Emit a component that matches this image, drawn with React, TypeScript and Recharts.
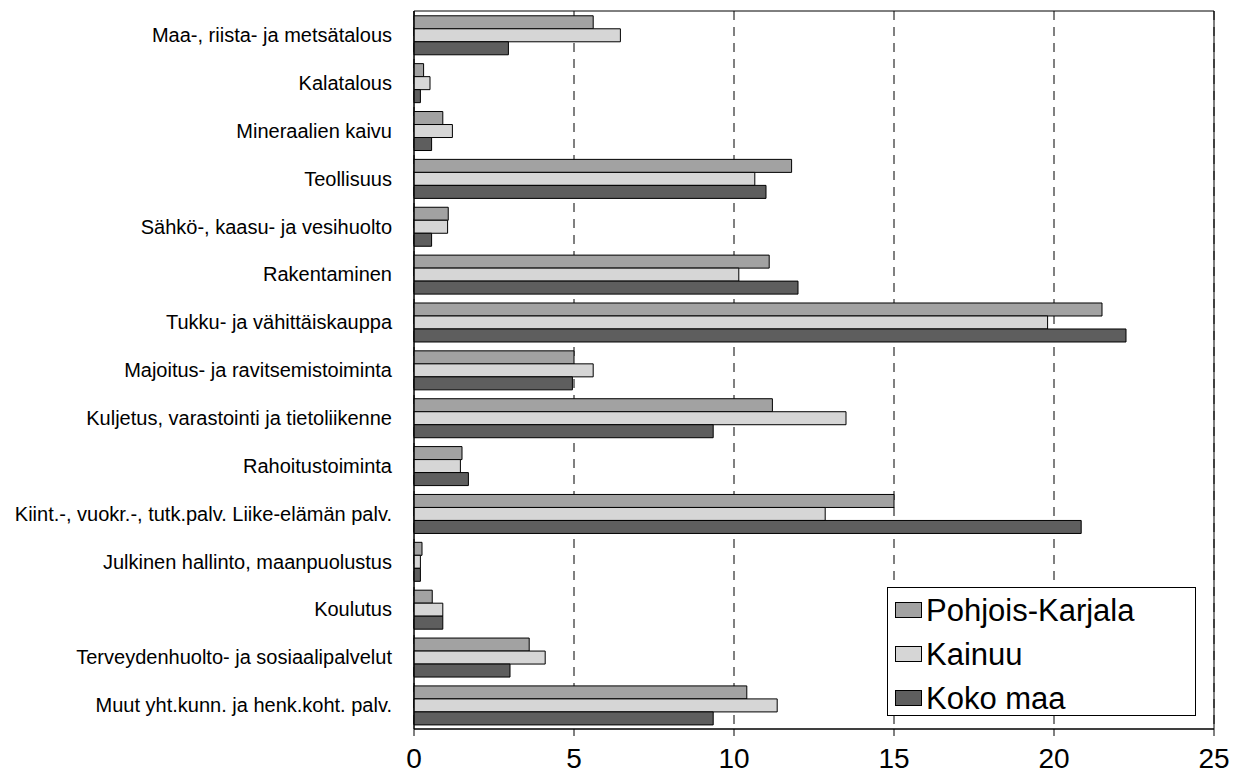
import { BarChart, Bar, XAxis, YAxis, CartesianGrid, ReferenceArea } from 'recharts';

// Toimialat (categories), top to bottom
const toimialat = [
  'Maa-, riista- ja metsätalous',
  'Kalatalous',
  'Mineraalien kaivu',
  'Teollisuus',
  'Sähkö-, kaasu- ja vesihuolto',
  'Rakentaminen',
  'Tukku- ja vähittäiskauppa',
  'Majoitus- ja ravitsemistoiminta',
  'Kuljetus, varastointi ja tietoliikenne',
  'Rahoitustoiminta',
  'Kiint.-, vuokr.-, tutk.palv. Liike-elämän palv.',
  'Julkinen hallinto, maanpuolustus',
  'Koulutus',
  'Terveydenhuolto- ja sosiaalipalvelut',
  'Muut yht.kunn. ja henk.koht. palv.',
];

const pohjoisKarjala = [5.6, 0.3, 0.9, 11.8, 1.07, 11.1, 21.5, 5.0, 11.2, 1.5, 15.0, 0.25, 0.57, 3.6, 10.4];
const kainuu = [6.45, 0.5, 1.2, 10.65, 1.05, 10.15, 19.8, 5.6, 13.5, 1.45, 12.85, 0.2, 0.9, 4.1, 11.35];
const kokoMaa = [2.95, 0.2, 0.55, 11.0, 0.55, 12.0, 22.25, 4.95, 9.35, 1.7, 20.85, 0.2, 0.9, 3.0, 9.35];

const xTicks = [0, 5, 10, 15, 20, 25];

const series = [
  { key: 'pk', name: 'Pohjois-Karjala', color: '#a2a2a2' },
  { key: 'kainuu', name: 'Kainuu', color: '#d6d6d6' },
  { key: 'koko', name: 'Koko maa', color: '#5e5e5e' },
];

const data = toimialat.map((name, i) => ({
  name,
  pk: pohjoisKarjala[i],
  kainuu: kainuu[i],
  koko: kokoMaa[i],
}));

const font = '"Liberation Sans", Arial, sans-serif';

export default function App() {
  return (
    <div style={{ position: 'absolute', left: 0, top: 0, width: 1242, height: 779, background: '#fff' }}>
      <BarChart
        width={1242}
        height={779}
        data={data}
        layout="vertical"
        margin={{ top: 11, right: 28, bottom: 0, left: 0 }}
        barCategoryGap="10%"
        barGap={0}
      >
        <CartesianGrid horizontal={false} stroke="#000" strokeDasharray="9 7" />
        <XAxis
          type="number"
          domain={[0, 25]}
          ticks={xTicks}
          interval={0}
          height={50}
          stroke="#000"
          tick={{ fill: '#000', fontSize: 28, fontFamily: font }}
          tickSize={7}
          tickMargin={12}
        />
        <YAxis
          type="category"
          dataKey="name"
          width={414}
          stroke="#000"
          tickLine={false}
          interval={0}
          tick={{ fill: '#000', fontSize: 20, fontFamily: font }}
          tickMargin={16}
        />
        <ReferenceArea x1={0} x2={25} fill="none" stroke="#000" strokeWidth={1} />
        {series.map((s) => (
          <Bar
            key={s.key}
            dataKey={s.key}
            name={s.name}
            fill={s.color}
            stroke="#000"
            strokeWidth={1}
            isAnimationActive={false}
          />
        ))}
      </BarChart>
      {/* legend box over the lower right corner of the plot */}
      <div
        style={{
          position: 'absolute',
          left: 887,
          top: 587,
          width: 309,
          height: 129,
          border: '1px solid #000',
          background: '#fff',
          boxSizing: 'border-box',
          padding: '0 0 0 7px',
          fontFamily: font,
        }}
      >
        {series.map((s) => (
          <div key={s.key} style={{ display: 'flex', alignItems: 'center', height: 44 }}>
            <span
              style={{
                display: 'inline-block',
                width: 27,
                height: 16,
                background: s.color,
                border: '1px solid #000',
                boxSizing: 'border-box',
                marginRight: 4,
              }}
            />
            <span style={{ fontSize: 31, color: '#000', lineHeight: '31px' }}>{s.name}</span>
          </div>
        ))}
      </div>
    </div>
  );
}
